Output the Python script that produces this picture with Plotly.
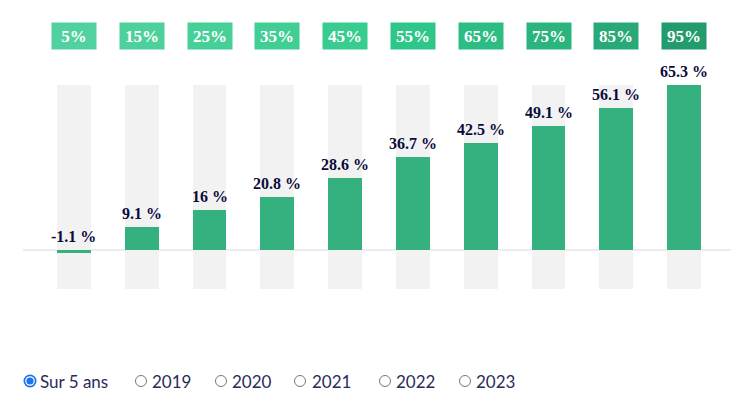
import plotly.graph_objects as go

# ---- data ----
categories = ["5%", "15%", "25%", "35%", "45%", "55%", "65%", "75%", "85%", "95%"]
values = [-1.1, 9.1, 16, 20.8, 28.6, 36.7, 42.5, 49.1, 56.1, 65.3]
value_labels = ["-1.1 %", "9.1 %", "16 %", "20.8 %", "28.6 %", "36.7 %", "42.5 %", "49.1 %", "56.1 %", "65.3 %"]
bg_low = -15.4
bg_high = 65.3
header_colors = ["#52d1a0", "#4dd09c", "#47cf98", "#40ce94", "#38cc8f",
                 "#2fc68a", "#2dbd84", "#2bb47e", "#29a977", "#239c6d"]
radio_labels = ["Sur 5 ans", "2019", "2020", "2021", "2022", "2023"]
radio_selected = 0

# ---- layout geometry (pixels, in screenshot coordinates) ----
OFF = 8  # page body margin
W, H = 739 - OFF, 401 - OFF
ML, MR, MT, MB = 23 - OFF, 0, 10 - OFF, 91
PW = W - ML - MR
PH = H - MT - MB
SPACING = 67.8
ZERO_PX = 250 - OFF
SCALE = 2.527

x_left = -0.5 - (40 - 23) / SPACING
x_right = x_left + PW / SPACING
y_top = (ZERO_PX - MT) / SCALE
y_bot = -(MT + PH - ZERO_PX) / SCALE


def px_x(px):
    return (px - OFF - ML) / PW


def px_y(py):
    return (MT + PH - (py - OFF)) / PH


xs = list(range(len(categories)))

fig = go.Figure()

# background columns
fig.add_trace(go.Bar(
    x=xs, y=[bg_high - bg_low] * len(xs), base=[bg_low] * len(xs),
    width=0.5, marker=dict(color="#f2f2f2", line=dict(width=0)),
    hoverinfo="skip", showlegend=False,
))
# values
fig.add_trace(go.Bar(
    x=xs, y=values, width=0.5,
    marker=dict(color="#35b180", line=dict(width=0)),
    showlegend=False,
))

annotations = []
for i, (v, lab) in enumerate(zip(values, value_labels)):
    annotations.append(dict(
        x=i, y=max(v, 0), xref="x", yref="y", text="<b>%s</b>" % lab,
        showarrow=False, yanchor="bottom", yshift=3,
        font=dict(family="Liberation Serif", size=16, color="#0b0b3b"),
    ))
for i, (c, col) in enumerate(zip(categories, header_colors)):
    annotations.append(dict(
        x=i, y=px_y(36), xref="x", yref="paper", text="<b>%s</b>" % c,
        showarrow=False, yanchor="middle", xanchor="center",
        width=40, height=22, bgcolor=col, borderpad=2,
        font=dict(family="Liberation Serif", size=17, color="white"),
    ))

shapes = []
radio_circle_px = [30, 141, 221, 300, 385, 465]
radio_text_px = [38, 150, 230, 310, 394, 474]
RY = 381
for i, lab in enumerate(radio_labels):
    cx = radio_circle_px[i]
    if i == radio_selected:
        for r, col in [(6.5, "#1a73e8"), (4.8, "white"), (3.6, "#1a73e8")]:
            shapes.append(dict(type="circle", xref="paper", yref="paper",
                               x0=px_x(cx - r), x1=px_x(cx + r),
                               y0=px_y(RY + r), y1=px_y(RY - r),
                               fillcolor=col, line=dict(width=0)))
    else:
        r = 5.5
        shapes.append(dict(type="circle", xref="paper", yref="paper",
                           x0=px_x(cx - r), x1=px_x(cx + r),
                           y0=px_y(RY + r), y1=px_y(RY - r),
                           fillcolor="white", line=dict(width=1, color="#777777")))
    annotations.append(dict(
        x=px_x(radio_text_px[i]), y=px_y(RY), xref="paper", yref="paper",
        text=lab, showarrow=False, xanchor="left", yanchor="middle",
        font=dict(family="Lato", size=17, color="#2b2b58"),
    ))

fig.update_layout(
    width=W, height=H,
    margin=dict(l=ML, r=MR, t=MT, b=MB),
    paper_bgcolor="white", plot_bgcolor="white",
    barmode="overlay", bargap=0,
    xaxis=dict(range=[x_left, x_right], showgrid=False, zeroline=False,
               showticklabels=False, fixedrange=True),
    yaxis=dict(range=[y_bot, y_top], showgrid=False, zeroline=True,
               zerolinecolor="#ececec", zerolinewidth=1.5,
               showticklabels=False, fixedrange=True),
    annotations=annotations, shapes=shapes,
    showlegend=False,
)

fig.write_html("out.html", config={"displayModeBar": False})
